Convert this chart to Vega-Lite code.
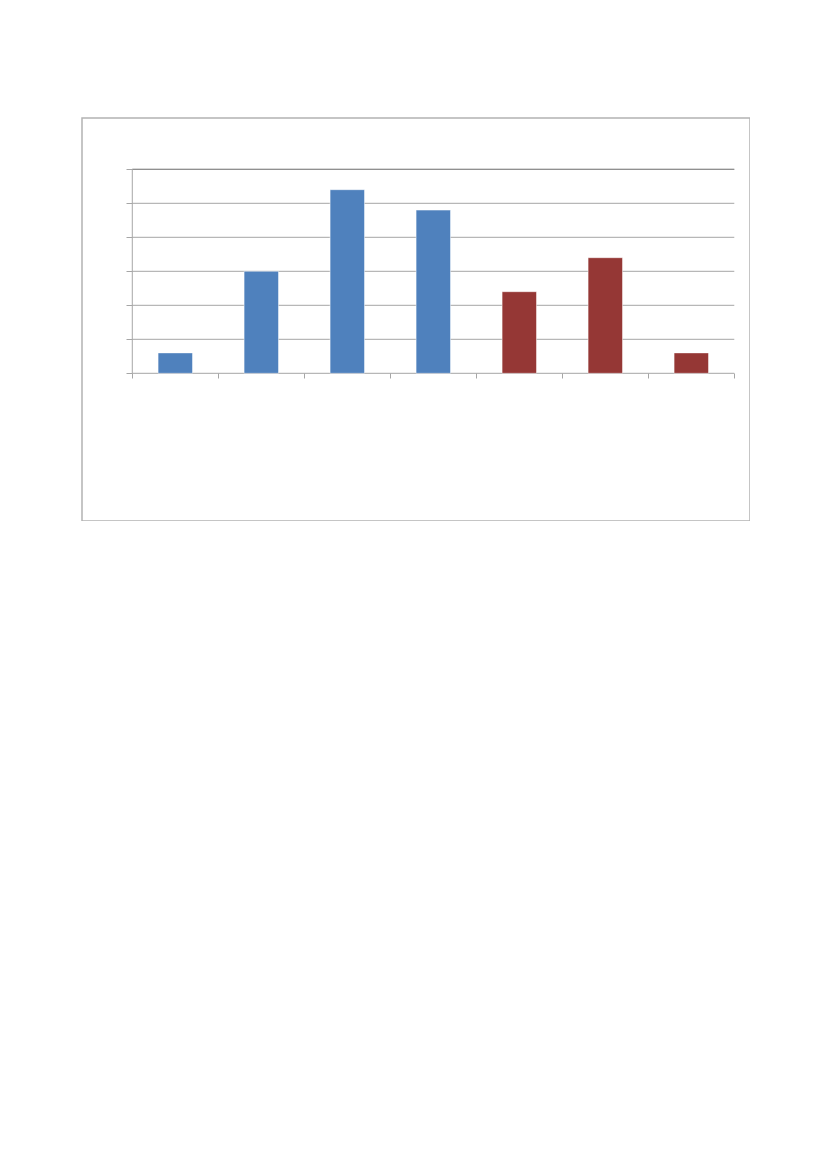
{
  "$schema": "https://vega.github.io/schema/vega-lite/v6.json",
  "width": 668,
  "height": 403,
  "autosize": "none",
  "padding": {"left": 82, "top": 118, "right": 0, "bottom": 0},
  "background": "white",
  "config": {
    "view": {"stroke": "#b3b3b3", "strokeWidth": 1.5},
    "axis": {
      "title": null,
      "domain": false,
      "labels": false,
      "grid": false,
      "ticks": true,
      "tickWidth": 1,
      "tickColor": "#a6a6a6"
    }
  },
  "datasets": {
    "bars": [
      {"cat": "1", "value": 3, "group": "A"},
      {"cat": "2", "value": 15, "group": "A"},
      {"cat": "3", "value": 27, "group": "A"},
      {"cat": "4", "value": 24, "group": "A"},
      {"cat": "5", "value": 12, "group": "B"},
      {"cat": "6", "value": 17, "group": "B"},
      {"cat": "7", "value": 3, "group": "B"}
    ],
    "grid": [
      {"level": 0}, {"level": 5}, {"level": 10}, {"level": 15},
      {"level": 20}, {"level": 25}, {"level": 30}
    ]
  },
  "layer": [
    {
      "data": {"name": "grid"},
      "mark": {"type": "rule", "color": "#a6a6a6", "strokeWidth": 1},
      "encoding": {
        "y": {
          "field": "level",
          "type": "quantitative",
          "title": null,
          "scale": {"domain": [-21.72, 37.544], "nice": false, "zero": false},
          "axis": {
            "orient": "left",
            "offset": -50,
            "values": [0, 5, 10, 15, 20, 25, 30],
            "tickSize": 6
          }
        },
        "x": {"datum": "1", "type": "nominal", "bandPosition": 0},
        "x2": {"datum": "7", "bandPosition": 1}
      }
    },
    {
      "data": {"values": [{"edge": "top"}]},
      "mark": {"type": "rule", "color": "#868686", "strokeWidth": 1},
      "encoding": {
        "y": {"datum": 30, "type": "quantitative"},
        "x": {"datum": "1", "type": "nominal", "bandPosition": 0},
        "x2": {"datum": "7", "bandPosition": 1}
      }
    },
    {
      "data": {"values": [{"edge": "left"}]},
      "mark": {"type": "rule", "color": "#a6a6a6", "strokeWidth": 1},
      "encoding": {
        "x": {"datum": "1", "type": "nominal", "bandPosition": 0},
        "y": {"datum": 0, "type": "quantitative"},
        "y2": {"datum": 30}
      }
    },
    {
      "data": {"name": "bars"},
      "mark": {
        "type": "bar",
        "width": {"band": 0.4},
        "stroke": "#ffffff",
        "strokeOpacity": 0.6,
        "strokeWidth": 0.8
      },
      "encoding": {
        "x": {
          "field": "cat",
          "type": "nominal",
          "title": null,
          "sort": null,
          "scale": {
            "domain": ["1", "2", "3", "4", "5", "6", "7"],
            "paddingInner": 0,
            "paddingOuter": 0.3837,
            "align": 0.762
          },
          "axis": {
            "orient": "bottom",
            "offset": -148,
            "tickBand": "extent",
            "tickSize": 5
          }
        },
        "y": {"field": "value", "type": "quantitative", "title": null},
        "color": {
          "field": "group",
          "type": "nominal",
          "scale": {"domain": ["A", "B"], "range": ["#4f81bd", "#953735"]},
          "legend": null
        }
      }
    }
  ]
}
